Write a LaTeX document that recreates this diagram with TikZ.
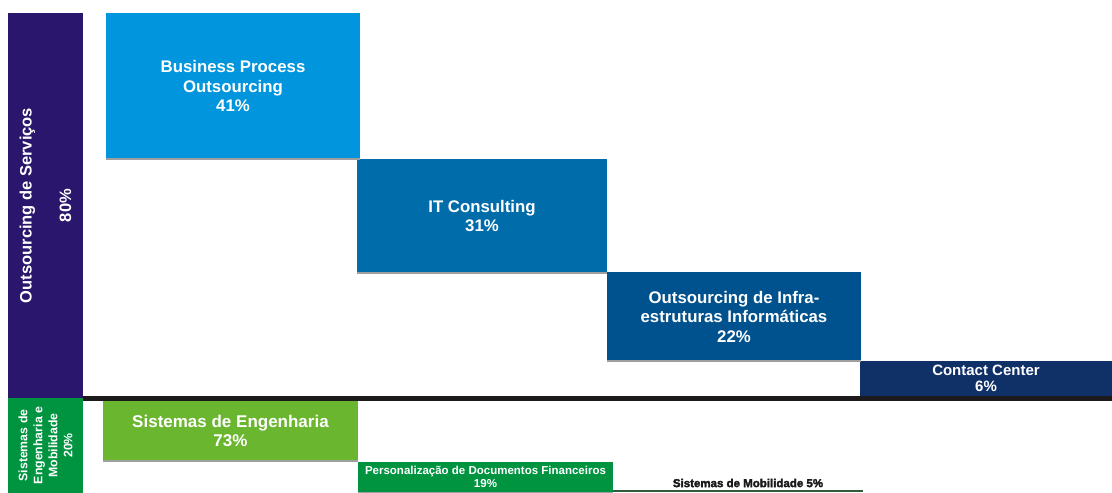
\documentclass[tikz,border=0pt]{standalone}
\usepackage{fontspec}
\setmainfont{Liberation Sans}
\newfontfamily\heavyfont[FakeBold=2.5]{Liberation Sans Bold}
\definecolor{cpurple}{RGB}{42,22,108}
\definecolor{cbpo}{RGB}{0,149,220}
\definecolor{cit}{RGB}{0,108,170}
\definecolor{cinfra}{RGB}{0,82,142}
\definecolor{ccc}{RGB}{16,48,104}
\definecolor{cgreen}{RGB}{0,148,64}
\definecolor{clime}{RGB}{106,182,46}
\definecolor{csep}{RGB}{28,26,26}
\definecolor{cmob}{RGB}{50,90,60}
\begin{document}
\begin{tikzpicture}[x=1pt,y=-1pt,
  seg/.style={anchor=north west, inner sep=0pt, outer sep=0pt, text=white, align=center},
  lbl/.style={text=white, align=center, inner sep=0pt},
  shade/.style={draw=gray!75, line width=1.5pt},
  big/.style={font=\fontsize{16.8}{19.5}\selectfont\bfseries}]
\useasboundingbox[fill=white] (0,0) rectangle (1112,493);
% upper group
\node[seg, fill=cpurple, minimum width=75pt, minimum height=385pt] (os) at (8,13) {};
\node[lbl, rotate=90, font=\fontsize{16.5}{19.5}\selectfont\bfseries] (oslbl) at (os.center) {Outsourcing de Servi\c{c}os\\[20pt]80\%};
\node[seg, fill=cbpo, minimum width=254pt, minimum height=146pt, big] (bpo) at (106,13) {Business Process\\Outsourcing\\41\%};
\node[seg, fill=cit, minimum width=250pt, minimum height=114pt, big] (it) at (357,159) {IT Consulting\\31\%};
\node[seg, fill=cinfra, minimum width=254pt, minimum height=89pt, big] (infra) at (607,272) {Outsourcing de Infra-\\estruturas Inform\'aticas\\22\%};
\node[seg, fill=ccc, minimum width=252pt, minimum height=35pt, font=\fontsize{15}{15.5}\selectfont\bfseries] (cc) at (860,361) {Contact Center\\6\%};
\draw[shade] (bpo.south west) -- (bpo.south east);
\draw[shade] (it.south west) -- (it.south east);
\draw[shade] (infra.south west) -- (infra.south east);
% separator
\node[seg, fill=csep, minimum width=1029pt, minimum height=5pt] (sep) at (83,396) {};
% lower group
\node[seg, fill=cgreen, minimum width=75pt, minimum height=95pt] (sem) at (8,398) {};
\node[lbl, rotate=90, font=\fontsize{12.3}{15}\selectfont\bfseries] (semlbl) at (sem.center) {Sistemas de\\Engenharia e\\Mobilidade\\20\%};
\node[seg, fill=clime, minimum width=255pt, minimum height=60pt, font=\fontsize{17}{18.5}\selectfont\bfseries] (eng) at (103,401) {Sistemas de Engenharia\\73\%};
\node[seg, fill=cgreen, minimum width=255pt, minimum height=30pt, font=\fontsize{11.5}{13}\selectfont\bfseries] (pers) at (358,462) {Personaliza\c{c}\~ao de Documentos Financeiros\\19\%};
\draw[shade] (eng.south west) -- (eng.south east);
\draw[shade, line width=1pt] (pers.south west) -- (pers.south east);
\coordinate (mobl) at (613,491);
\coordinate (mobr) at (863,491);
\draw[cmob, line width=2pt] (mobl) -- (mobr);
\node[inner sep=0pt, font=\fontsize{11.5}{13}\heavyfont, text=black!90] (mob) at (748,483) {Sistemas de Mobilidade 5\%};
\end{tikzpicture}
\end{document}
